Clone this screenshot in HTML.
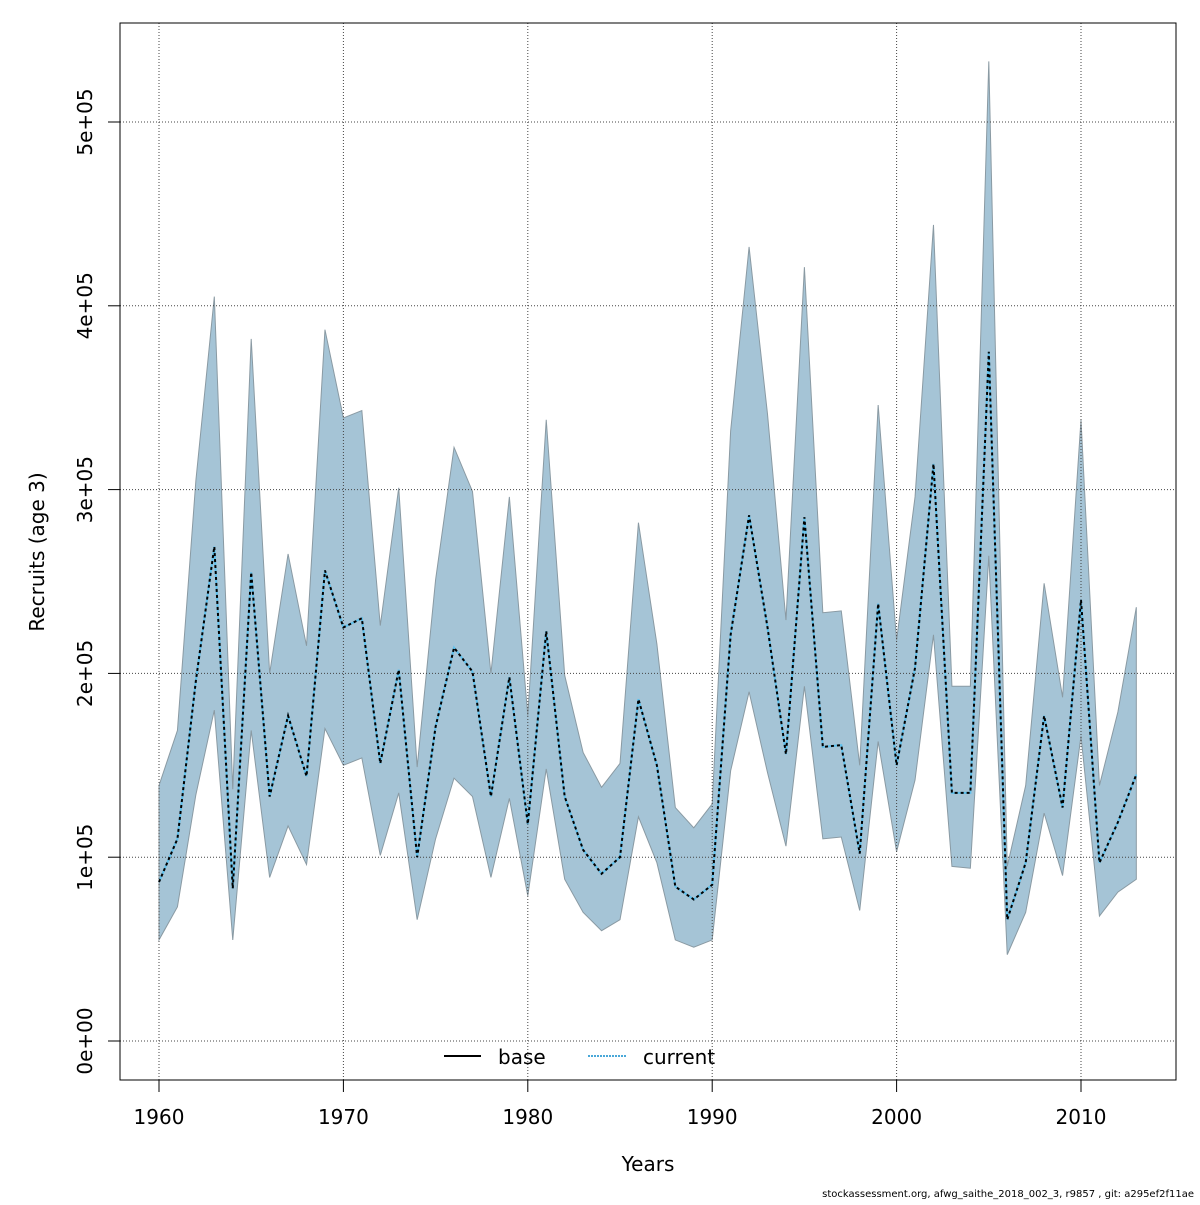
<!DOCTYPE html>
<html><head><meta charset="utf-8"><style>
body{margin:0;background:#fff;}
svg text{font-family:"DejaVu Sans","Liberation Sans",sans-serif;}
</style></head><body>
<svg id="chart" width="1200" height="1200" viewBox="0 0 1200 1200" xmlns="http://www.w3.org/2000/svg">
<g id="band"></g>
<g id="grid"></g>
<g id="lines"></g>
<rect x="120" y="23" width="1056" height="1057" fill="none" stroke="#000" stroke-width="1"/>
<g id="axes"></g>
<text x="44" y="552" font-size="20" text-anchor="middle" transform="rotate(-90 44 552)">Recruits (age 3)</text>
<text x="648" y="1171" font-size="20" text-anchor="middle">Years</text>
<g>
<line x1="444" y1="1056" x2="481" y2="1056" stroke="#000" stroke-width="2"/>
<text x="498" y="1064" font-size="20">base</text>
<line x1="588" y1="1056" x2="626" y2="1056" stroke="#4aa8d8" stroke-width="2" stroke-dasharray="2,1"/>
<text x="643" y="1064" font-size="20">current</text>
</g>
<text x="1194" y="1197" font-size="10" text-anchor="end">stockassessment.org, afwg_saithe_2018_002_3, r9857 , git: a295ef2f11ae</text>
</svg>
<script>
const years=[];for(let y=1960;y<=2013;y++)years.push(y);
const mid=[86.5,110,196,269,83,255,133,177,144,256,225,230,151,202,100,171,214,201,133,198,118,223,133,104,91,100,186,150,84,77,85,221,286,225,156,285,160,161,102,238,150,203,314,135,135,375,66,97,177,127,240,97,119,145];
const low=[55,73,134,180,55,169,89,117,96,170,150,154,101,135,66,110,143,133,89,132,79,148,88,70,60,66,122,97,55,51,55,147,190,146,106,193,110,111,71,163,103,142,221,95,94,264,47,70,124,90,166,68,81,88];
const high=[139,169,305,405,137,382,200,265,215,387,339,343,226,301,149,251,323,299,200,296,177,338,199,157,138,151,282,216,127,116,129,332,432,341,229,421,233,234,150,346,218,296,444,193,193,533,95,139,249,187,338,139,179,236];
const yTicks=[0,100000,200000,300000,400000,500000];
const yTickLabels=["0e+00","1e+05","2e+05","3e+05","4e+05","5e+05"];
const xTicks=[1960,1970,1980,1990,2000,2010];
const NS="http://www.w3.org/2000/svg";
const X=v=>159+(v-1960)*(1081-159)/50;
const Y=v=>1041-v*(1041-122)/500000;
function mk(t,a,p){const e=document.createElementNS(NS,t);for(const k in a)e.setAttribute(k,a[k]);p.appendChild(e);return e;}
const grid=document.getElementById('grid'),axes=document.getElementById('axes');
xTicks.forEach(t=>{
 const g=mk('line',{x1:X(t),x2:X(t),y1:23,y2:1080,stroke:'#444','stroke-dasharray':'1,2'},grid);
 
 
 const tk=mk('line',{x1:X(t),x2:X(t),y1:1080,y2:1092,stroke:'#000'},axes);
 
 
 const tx=mk('text',{x:X(t),y:1124,'font-size':20,'text-anchor':'middle'},axes);tx.textContent=t;
 
 
});
yTicks.forEach((t,i)=>{
 const g=mk('line',{x1:120,x2:1176,y1:Y(t),y2:Y(t),stroke:'#444','stroke-dasharray':'1,2'},grid);
 
 
 const tk=mk('line',{x1:108,x2:120,y1:Y(t),y2:Y(t),stroke:'#000'},axes);
 
 
 const tx=mk('text',{x:92,y:Y(t),'font-size':20,'text-anchor':'middle',transform:`rotate(-90 92 ${Y(t)})`},axes);tx.textContent=yTickLabels[i];
 
 
});
let pts=years.map((y,i)=>X(y)+','+Y(high[i]*1000));
pts=pts.concat(years.map((y,i)=>X(y)+','+Y(low[i]*1000)).reverse());
const band=mk('polygon',{points:pts.join(' '),fill:'#a5c4d6',stroke:'#8a9aa3','stroke-width':1},document.getElementById('band'));


const mp=years.map((y,i)=>X(y)+','+Y(mid[i]*1000)).join(' ');
const l2=mk('polyline',{points:mp,fill:'none',stroke:'#5fc0ec','stroke-width':2},document.getElementById('lines'));


const l1=mk('polyline',{points:mp,fill:'none',stroke:'#000','stroke-width':2,'stroke-dasharray':'3,3'},document.getElementById('lines'));


</script>
</body></html>
